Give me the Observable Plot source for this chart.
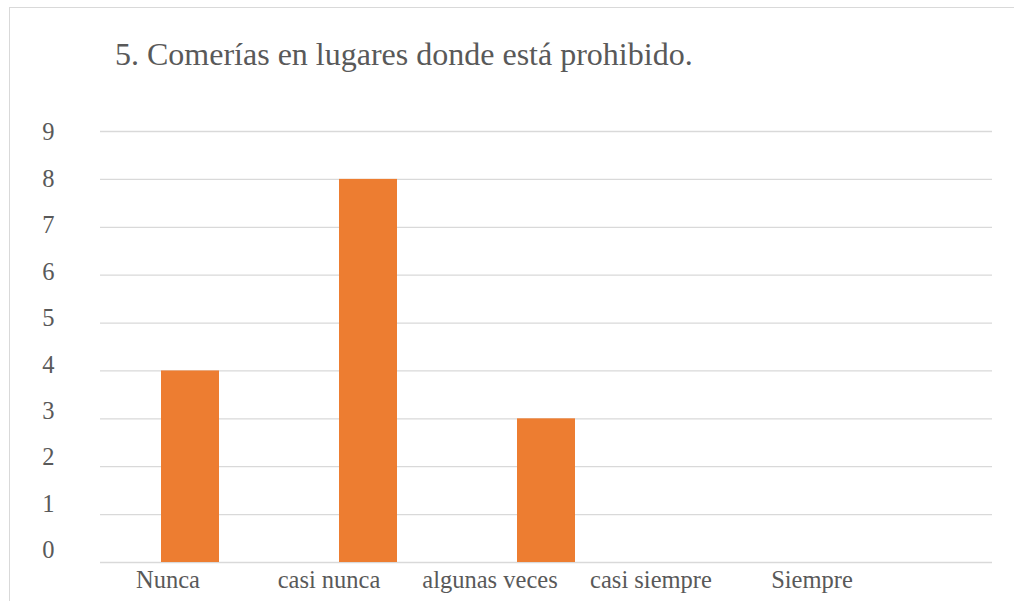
<!DOCTYPE html>
<html>
<head>
<meta charset="utf-8">
<script src="https://cdn.jsdelivr.net/npm/d3@7"></script>
<script src="https://cdn.jsdelivr.net/npm/@observablehq/plot@0.6"></script>
<style>
  html, body { margin: 0; padding: 0; background: #fff; overflow: hidden; }
  #wrap { position: relative; width: 1014px; height: 601px; overflow: hidden; }
  #frame { position: absolute; left: 9px; top: 7px; width: 1030px; height: 640px; border: 1px solid #d9d9d9; box-sizing: border-box; }
  #title { position: absolute; left: 115px; top: 38px; margin: 0; font-family: "Liberation Serif", "Times New Roman", serif; font-size: 32px; line-height: 32px; font-weight: normal; color: #595959; white-space: nowrap; }
  .layer { position: absolute; left: 0; top: 0; }
  .layer svg text { font-family: "Liberation Serif", "Times New Roman", serif; }
</style>
</head>
<body>
<div id="wrap">
  <div id="frame"></div>
  <h1 id="title"></h1>
  <div id="plot" class="layer"></div>
  <div id="labels" class="layer"></div>
</div>
<script>
const titleText = "5. Comerías en lugares donde está prohibido.";
const categories = ["Nunca", "casi nunca", "algunas veces", "casi siempre", "Siempre"];
const values = [4, 8, 3, 0, 0];
const yTicks = [0, 1, 2, 3, 4, 5, 6, 7, 8, 9];

const data = categories.map((c, i) => ({ category: c, value: values[i] }));

document.getElementById("title").textContent = titleText;

const font = "'Liberation Serif', 'Times New Roman', serif";

const main = Plot.plot({
  width: 1014,
  height: 601,
  marginTop: 131,
  marginBottom: 39,
  marginLeft: 100,
  marginRight: 22,
  x: { domain: categories, paddingInner: 0.675, paddingOuter: 0.3375, axis: null },
  y: { domain: [0, 9], axis: null },
  style: { background: "transparent", fontFamily: font },
  marks: [
    Plot.gridY(yTicks, { stroke: "#d9d9d9", strokeOpacity: 1, strokeWidth: 1.3 }),
    Plot.barY(data, { x: "category", y: "value", fill: "#ED7D31" })
  ]
});
document.getElementById("plot").appendChild(main);

const labels = Plot.plot({
  width: 1014,
  height: 601,
  marginTop: 132,
  marginBottom: 51,
  marginLeft: 85,
  marginRight: 121,
  x: { type: "band", domain: categories, padding: 0 },
  y: { domain: [0, 9] },
  style: { background: "transparent", fontFamily: font, color: "#595959" },
  marks: [
    Plot.axisY(yTicks, { anchor: "left", tickSize: 0, tickPadding: 0, dx: -31, fontSize: 24.5, fill: "#595959", label: null, textAnchor: "end" }),
    Plot.axisX(categories, { anchor: "bottom", tickSize: 0, tickPadding: 20, fontSize: 24.5, fill: "#595959", label: null })
  ]
});
document.getElementById("labels").appendChild(labels);
</script>
</body>
</html>
